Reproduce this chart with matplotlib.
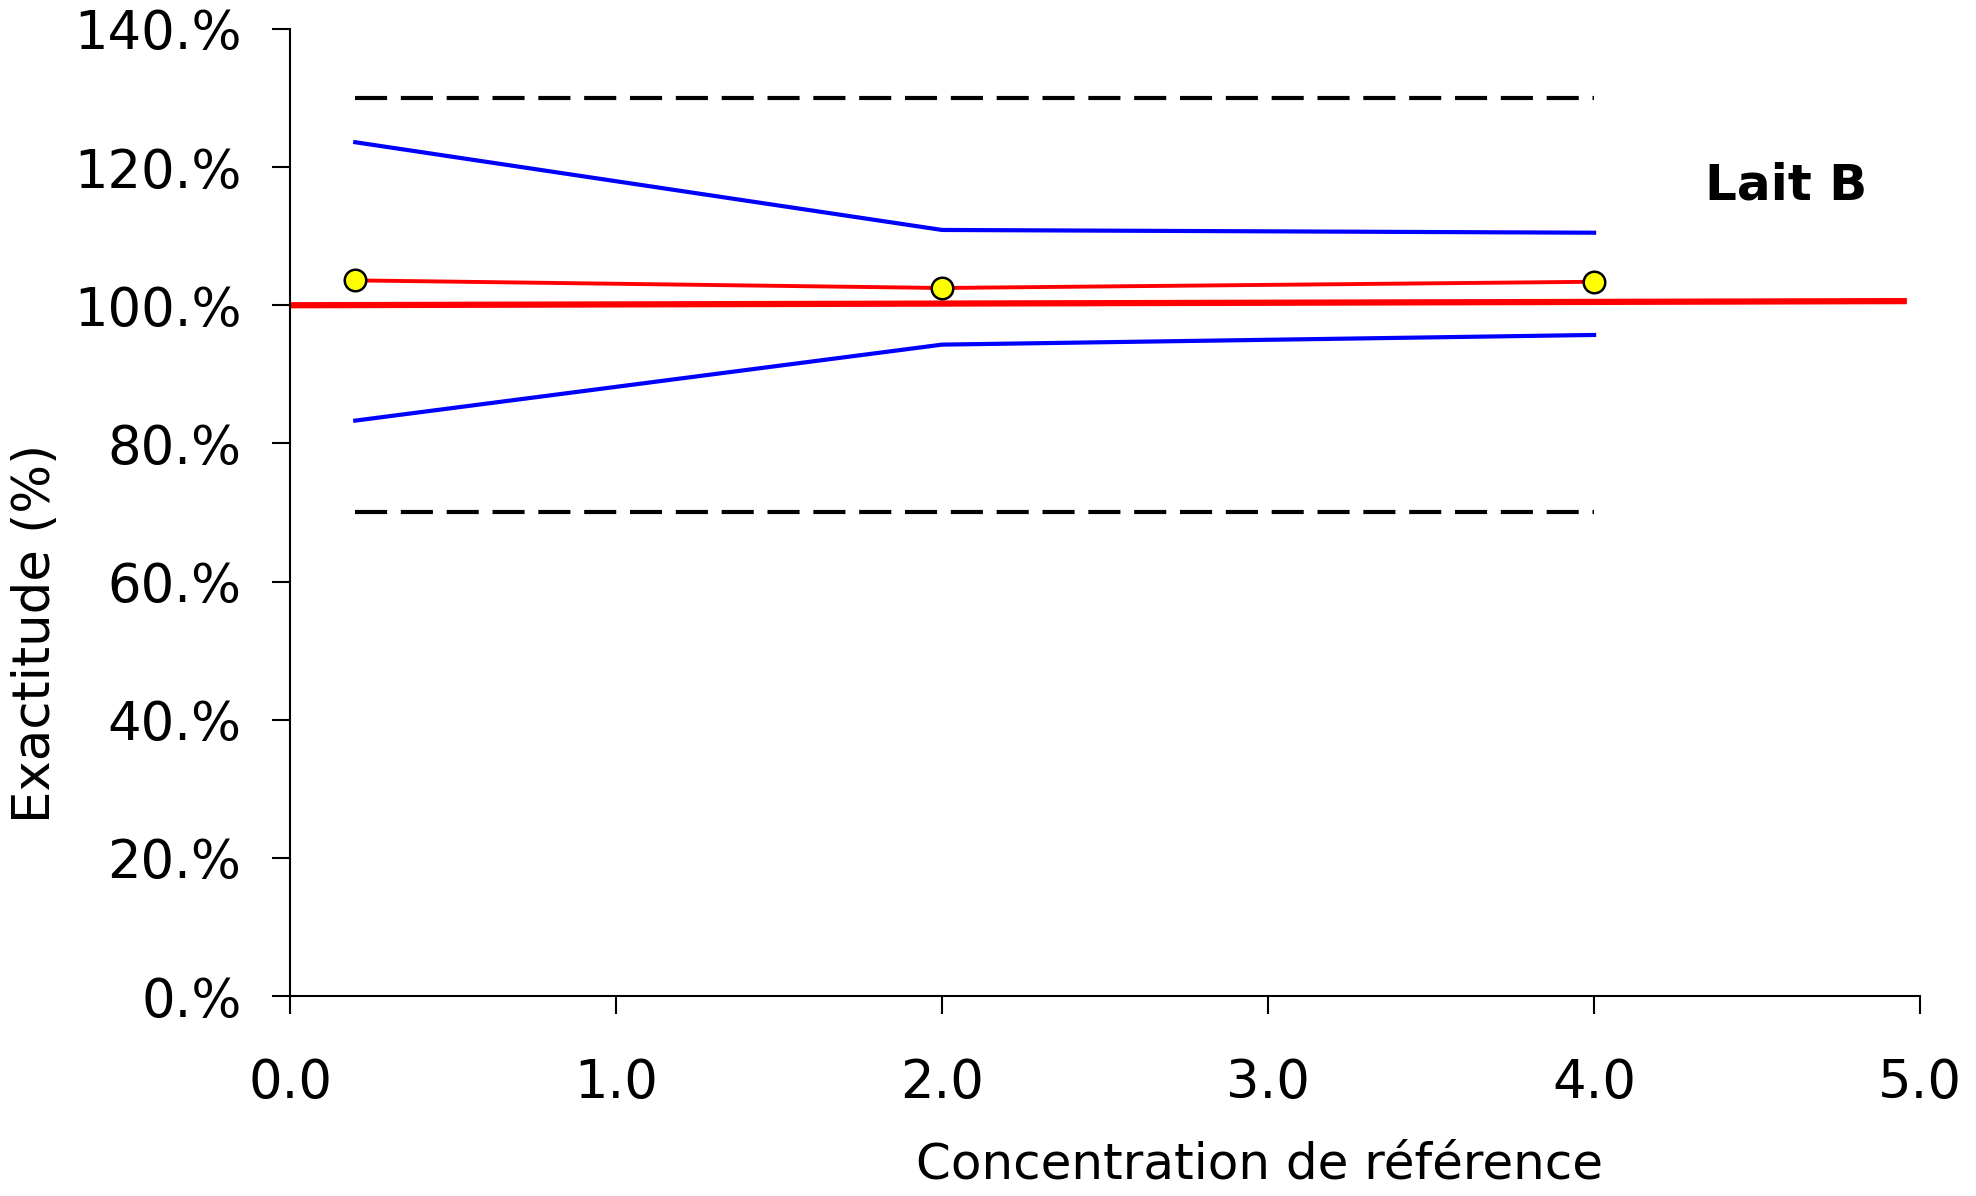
import matplotlib
matplotlib.use("Agg")
import matplotlib.pyplot as plt
from matplotlib.ticker import FuncFormatter

# data
conc = [0.2, 2.0, 4.0]
exactitude = [103.6, 102.5, 103.4]
upper_tol = [123.6, 110.9, 110.5]
lower_tol = [83.3, 94.3, 95.7]
accept_x = [0.2, 4.0]
accept_hi = [130, 130]
accept_lo = [70, 70]
ref_x = [0.0, 4.95]
ref_y = [100.0, 100.6]

plt.rcParams['font.family'] = ['DejaVu Sans']

fig = plt.figure(figsize=(19.76, 11.96), dpi=100)
ax = fig.add_axes([0.1468, 0.1672, 0.8249, 0.8086])

ax.plot(accept_x, accept_hi, color="black", lw=3, dashes=(7.7, 3.3))
ax.plot(accept_x, accept_lo, color="black", lw=3, dashes=(7.7, 3.3))
ax.plot(conc, upper_tol, color="#0000ff", lw=3)
ax.plot(conc, lower_tol, color="#0000ff", lw=3)
ax.plot(ref_x, ref_y, color="#ff0000", lw=4.5)
ax.plot(conc, exactitude, color="#ff0000", lw=2.8, marker="o",
        markersize=15.5, markerfacecolor="#ffff00", markeredgecolor="black",
        markeredgewidth=1.8)

ax.text(4.59, 117.3, "Lait B", fontsize=36, fontweight="bold",
        ha="center", va="center")

ax.set_xlim(0, 5)
ax.set_ylim(0, 140)
ax.set_xticks([0, 1, 2, 3, 4, 5])
ax.set_yticks(range(0, 141, 20))
ax.xaxis.set_major_formatter(FuncFormatter(lambda v, _: f"{v:.1f}"))
ax.yaxis.set_major_formatter(FuncFormatter(lambda v, _: f"{int(v)}.%"))

for s in ["top", "right"]:
    ax.spines[s].set_visible(False)
for s in ["left", "bottom"]:
    ax.spines[s].set_linewidth(1.5)

ax.tick_params(axis="both", direction="out", length=13, width=1.5,
               labelsize=38)
ax.tick_params(axis="y", pad=22)
ax.tick_params(axis="x", pad=31)

ax.set_xlabel("Concentration de référence", fontsize=36, va="center")
ax.xaxis.set_label_coords(0.595, -0.174)
ax.set_ylabel("Exactitude (%)", fontsize=37, va="center")
ax.yaxis.set_label_coords(-0.156, 0.375)

fig.savefig("out.png", dpi=100)
